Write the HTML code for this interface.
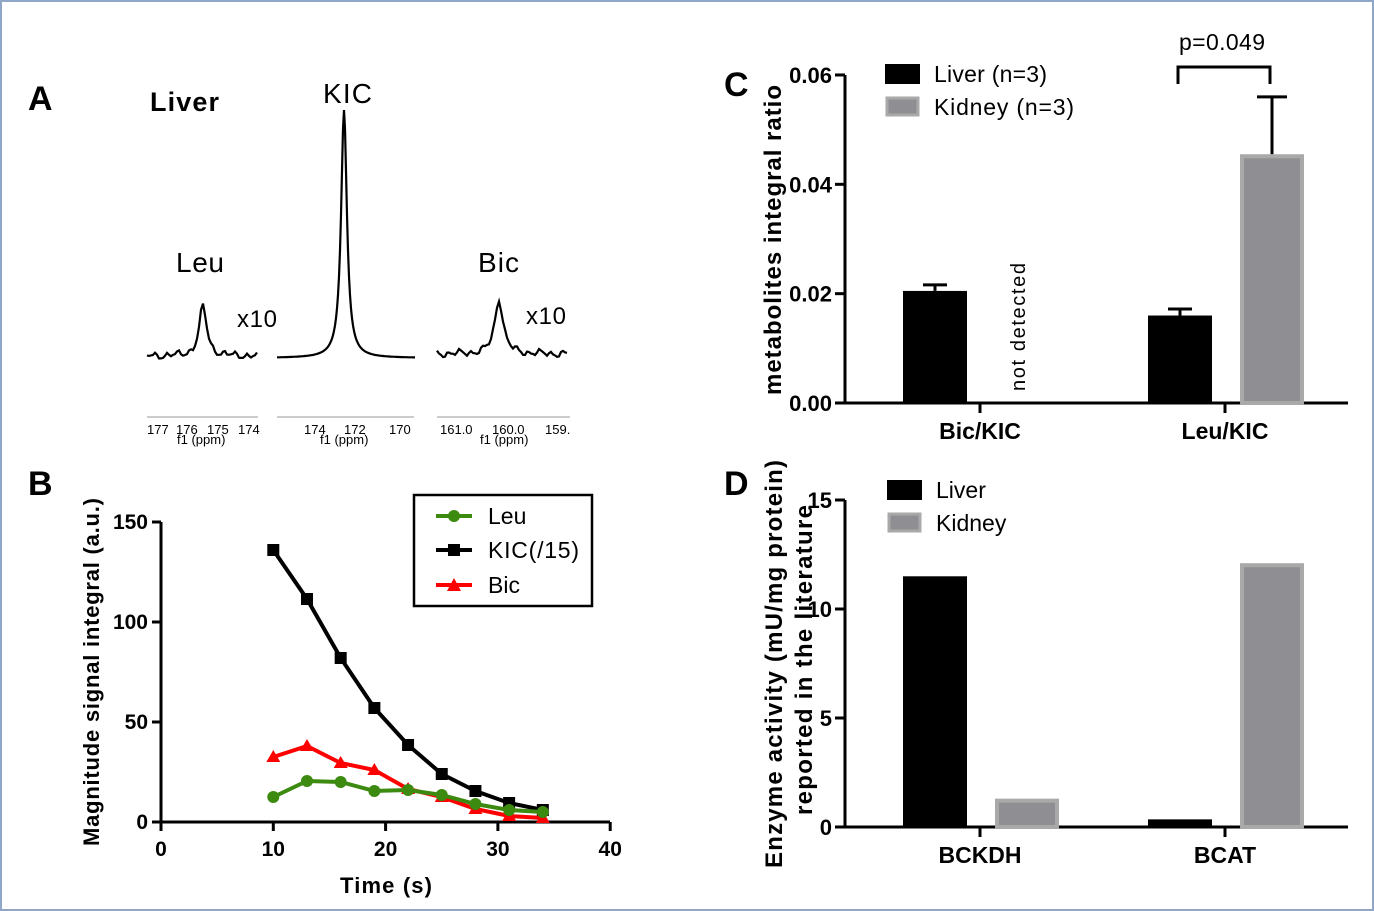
<!DOCTYPE html>
<html><head><meta charset="utf-8"><style>
body{margin:0;background:#fff;}
svg{display:block;font-family:"Liberation Sans",Arial,sans-serif;}
</style></head><body>
<svg id="fig" width="1374" height="911" viewBox="0 0 1374 911" xmlns="http://www.w3.org/2000/svg">
<rect x="1" y="1" width="1372" height="909" fill="#fff" stroke="#8fa6c6" stroke-width="2"/>
<!-- Panel A -->
<g>
<text x="28" y="110" font-size="34" font-weight="bold">A</text>
<text x="150" y="111" font-size="27" font-weight="bold" textLength="69">Liver</text>
<text x="323" y="103" font-size="28" textLength="49">KIC</text>
<text x="176" y="272" font-size="28" textLength="48">Leu</text>
<text x="478" y="272" font-size="28" textLength="41">Bic</text>
<text x="237" y="327" font-size="24" textLength="40">x10</text>
<text x="526" y="324" font-size="24" textLength="40">x10</text>
<g id="spectra" fill="none" stroke="#000" stroke-width="2.2"></g>
<g stroke="#999" stroke-width="1" fill="none">
<line x1="147" y1="417" x2="258" y2="417"/><line x1="277" y1="417" x2="414" y2="417"/><line x1="437" y1="417" x2="570" y2="417"/>
</g>
<g font-size="13" fill="#000">
<text x="147" y="434">177</text><text x="176" y="434">176</text><text x="207" y="434">175</text><text x="238" y="434">174</text>
<text x="177" y="444">f1 (ppm)</text>
<text x="304" y="434">174</text><text x="344" y="434">172</text><text x="389" y="434">170</text>
<text x="320" y="444">f1 (ppm)</text>
<text x="440" y="434">161.0</text><text x="492" y="434">160.0</text><text x="545" y="434">159.</text>
<text x="480" y="444">f1 (ppm)</text>
</g>
</g>
<!-- Panel B -->
<g>
<text x="28" y="495" font-size="34" font-weight="bold">B</text>
<g id="chartB"></g>
<text x="386" y="893" font-size="22" font-weight="bold" text-anchor="middle" textLength="92">Time (s)</text>
<text transform="translate(99,672) rotate(-90)" font-size="22" font-weight="bold" text-anchor="middle" textLength="348">Magnitude signal integral (a.u.)</text>
<g>
<rect x="414" y="495" width="178" height="111" fill="#fff" stroke="#000" stroke-width="2.5"/>
<line x1="436" y1="516" x2="472" y2="516" stroke="#3c8a10" stroke-width="4"/><circle cx="454" cy="516" r="6" fill="#3c8a10"/>
<text x="488" y="524" font-size="23">Leu</text>
<line x1="436" y1="550" x2="472" y2="550" stroke="#000" stroke-width="4"/><rect x="448" y="544" width="12" height="12" fill="#000"/>
<text x="488" y="558" font-size="23" textLength="91">KIC(/15)</text>
<line x1="436" y1="585" x2="472" y2="585" stroke="#f00" stroke-width="4"/><path d="M447 591 L454 578 L461 591Z" fill="#f00"/>
<text x="488" y="593" font-size="23">Bic</text>
</g>
</g>
<!-- Panel C -->
<g>
<text x="724" y="96" font-size="34" font-weight="bold">C</text>
<g id="chartC"></g>
<text transform="translate(781,240) rotate(-90)" font-size="24" font-weight="bold" text-anchor="middle" textLength="310">metabolites integral ratio</text>
<text transform="translate(1025,327) rotate(-90)" font-size="20" text-anchor="middle" textLength="128">not detected</text>
<rect x="885" y="64" width="35" height="20" fill="#000"/>
<text x="934" y="82" font-size="23" textLength="113">Liver (n=3)</text>
<rect x="887" y="98" width="31" height="17" fill="#8f8f93" stroke="#a9a9a9" stroke-width="3"/>
<text x="934" y="115" font-size="23" textLength="140">Kidney  (n=3)</text>
<path d="M1178 84 V67 H1270 V84" fill="none" stroke="#000" stroke-width="3"/>
<text x="1222" y="50" font-size="23" text-anchor="middle" textLength="86">p=0.049</text>
</g>
<!-- Panel D -->
<g>
<text x="724" y="495" font-size="34" font-weight="bold">D</text>
<g id="chartD"></g>
<text transform="translate(782,664) rotate(-90)" font-size="24" font-weight="bold" text-anchor="middle" textLength="408">Enzyme activity (mU/mg protein)</text>
<text transform="translate(812,660) rotate(-90)" font-size="24" font-weight="bold" text-anchor="middle" textLength="310">reported in the literature</text>
<rect x="887" y="480" width="35" height="20" fill="#000"/>
<text x="936" y="498" font-size="23">Liver</text>
<rect x="889" y="514" width="31" height="17" fill="#8f8f93" stroke="#a9a9a9" stroke-width="3"/>
<text x="936" y="531" font-size="23">Kidney</text>
</g>
<script>
// Panel B data
const timeVals=[10,13,16,19,22,25,28,31,34];
const kicVals=[136,111.5,82,57,38.5,24,15.5,9.5,6];
const bicVals=[32.5,38,29.5,26,16.5,12.5,6.5,3,2];
const leuVals=[12.5,20.5,20,15.5,16,13.5,9,6,5];
const bXTicks=[0,10,20,30,40];
const bYTicks=[0,50,100,150];
// Panel C data
const cCategories=['Bic/KIC','Leu/KIC'];
const cLiver=[0.0205,0.016];
const cLiverErr=[0.0011,0.0012];
const cKidney=[0,0.0455];
const cKidneyErr=[0,0.0105];
const cYTicks=[0,0.02,0.04,0.06];
// Panel D data
const dCategories=['BCKDH','BCAT'];
const dLiver=[11.5,0.35];
const dKidney=[1.3,12.1];
const dYTicks=[0,5,10,15];

const NS='http://www.w3.org/2000/svg';
function mk(tag,attrs,parent){const e=document.createElementNS(NS,tag);for(const k in attrs)e.setAttribute(k,attrs[k]);parent.appendChild(e);return e;}

// spectra (decorative)
(function(){
const g=document.getElementById('spectra');
function spec(x0,x1,base,px,h,w,noise,seed,step){let d='';for(let x=x0;x<=x1;x+=step){const t=(x-px)/w;let y=base-h/(1+t*t)+noise*(Math.sin(x*0.55+seed)+0.7*Math.sin(x*0.23+seed*2)+0.4*Math.sin(x*1.1+seed*3));d+=(x===x0?'M':'L')+x+' '+y.toFixed(1);}return d;}
let p=mk('path',{d:spec(147,258,356,203,50,4.5,2.2,1,2)},g);


p=mk('path',{d:spec(277,415,358,344,248,3.5,0,0,1)},g);


p=mk('path',{d:spec(437,567,354,499,55,5,2.2,3,2)},g);


})();

// Panel B chart
(function(){
const g=document.getElementById('chartB');
const X=v=>161+v*11.23, Y=v=>822-v*2;
mk('path',{d:'M161 522 V822 H610',fill:'none',stroke:'#000','stroke-width':3},g);
bXTicks.forEach(t=>{mk('line',{x1:X(t),y1:822,x2:X(t),y2:831,stroke:'#000','stroke-width':3},g);
 const tx=mk('text',{x:X(t),y:856,'font-size':21,'font-weight':'bold','text-anchor':'middle'},g);tx.textContent=t;
 
 });
bYTicks.forEach(t=>{mk('line',{x1:152,y1:Y(t),x2:161,y2:Y(t),stroke:'#000','stroke-width':3},g);
 const tx=mk('text',{x:148,y:Y(t)+7,'font-size':21,'font-weight':'bold','text-anchor':'end'},g);tx.textContent=t;
 
 });
function series(vals,color,marker,name){
 const d=vals.map((v,i)=>(i?'L':'M')+X(timeVals[i])+' '+Y(v)).join('');
 const l=mk('path',{d:d,fill:'none',stroke:color,'stroke-width':4},g);
 
 
 vals.forEach((v,i)=>{const x=X(timeVals[i]),y=Y(v);let m;
  if(marker==='sq')m=mk('rect',{x:x-6,y:y-6,width:12,height:12,fill:color},g);
  else if(marker==='tri')m=mk('path',{d:`M${x-7} ${y+5}L${x} ${y-7}L${x+7} ${y+5}Z`,fill:color},g);
  else m=mk('circle',{cx:x,cy:y,r:6,fill:color},g);
  
  });
}
series(kicVals,'#000','sq','kic');
series(bicVals,'#f00','tri','bic');
series(leuVals,'#3c8a10','circ','leu');
})();

// bar chart helper
function barChart(id,base,scale,yTicks,fmt,cats,liver,kidney,liverErr,kidneyErr,prefix){
 const g=document.getElementById(id);
 const Y=v=>base-v*scale;
 const top=Y(yTicks[yTicks.length-1]);
 mk('path',{d:`M845 ${top} V${base} H1348`,fill:'none',stroke:'#000','stroke-width':3},g);
 yTicks.forEach(t=>{mk('line',{x1:835,y1:Y(t),x2:845,y2:Y(t),stroke:'#000','stroke-width':3},g);
  const tx=mk('text',{x:832,y:Y(t)+8,'font-size':22,'font-weight':'bold','text-anchor':'end'},g);tx.textContent=fmt(t);
  
  });
 const centers=[980,1225];
 cats.forEach((c,i)=>{
  const cx=centers[i];
  mk('line',{x1:cx,y1:base,x2:cx,y2:base+10,stroke:'#000','stroke-width':3},g);
  const tx=mk('text',{x:cx,y:base+36,'font-size':23,'font-weight':'bold','text-anchor':'middle'},g);tx.textContent=c;
  
  
  const lx=cx-77;
  if(liverErr&&liverErr[i]>0){const ey=Y(liver[i]+liverErr[i]);mk('path',{d:`M${lx+32} ${Y(liver[i])} V${ey} M${lx+20} ${ey} H${lx+44}`,stroke:'#000','stroke-width':3,fill:'none'},g);}
  const b=mk('rect',{x:lx,y:Y(liver[i]),width:64,height:Math.max(0,base-Y(liver[i])),fill:'#000'},g);
  
  
  const kx=cx+15;
  if(kidney[i]>0){
   if(kidneyErr&&kidneyErr[i]>0){const ey=Y(kidney[i]+kidneyErr[i]);mk('path',{d:`M${kx+32} ${Y(kidney[i])} V${ey} M${kx+17} ${ey} H${kx+47}`,stroke:'#000','stroke-width':3,fill:'none'},g);}
   const k=mk('rect',{x:kx+2,y:Y(kidney[i])+2,width:60,height:Math.max(0,base-Y(kidney[i])-2),fill:'#8f8f93',stroke:'#a9a9a9','stroke-width':4},g);
   
   
  }
 });
}
barChart('chartC',403,5467,cYTicks,t=>t.toFixed(2),cCategories,cLiver,cKidney,cLiverErr,cKidneyErr,'c');
barChart('chartD',827,21.8,dYTicks,t=>String(t),dCategories,dLiver,dKidney,null,null,'d');
</script>
</svg>
</body></html>
